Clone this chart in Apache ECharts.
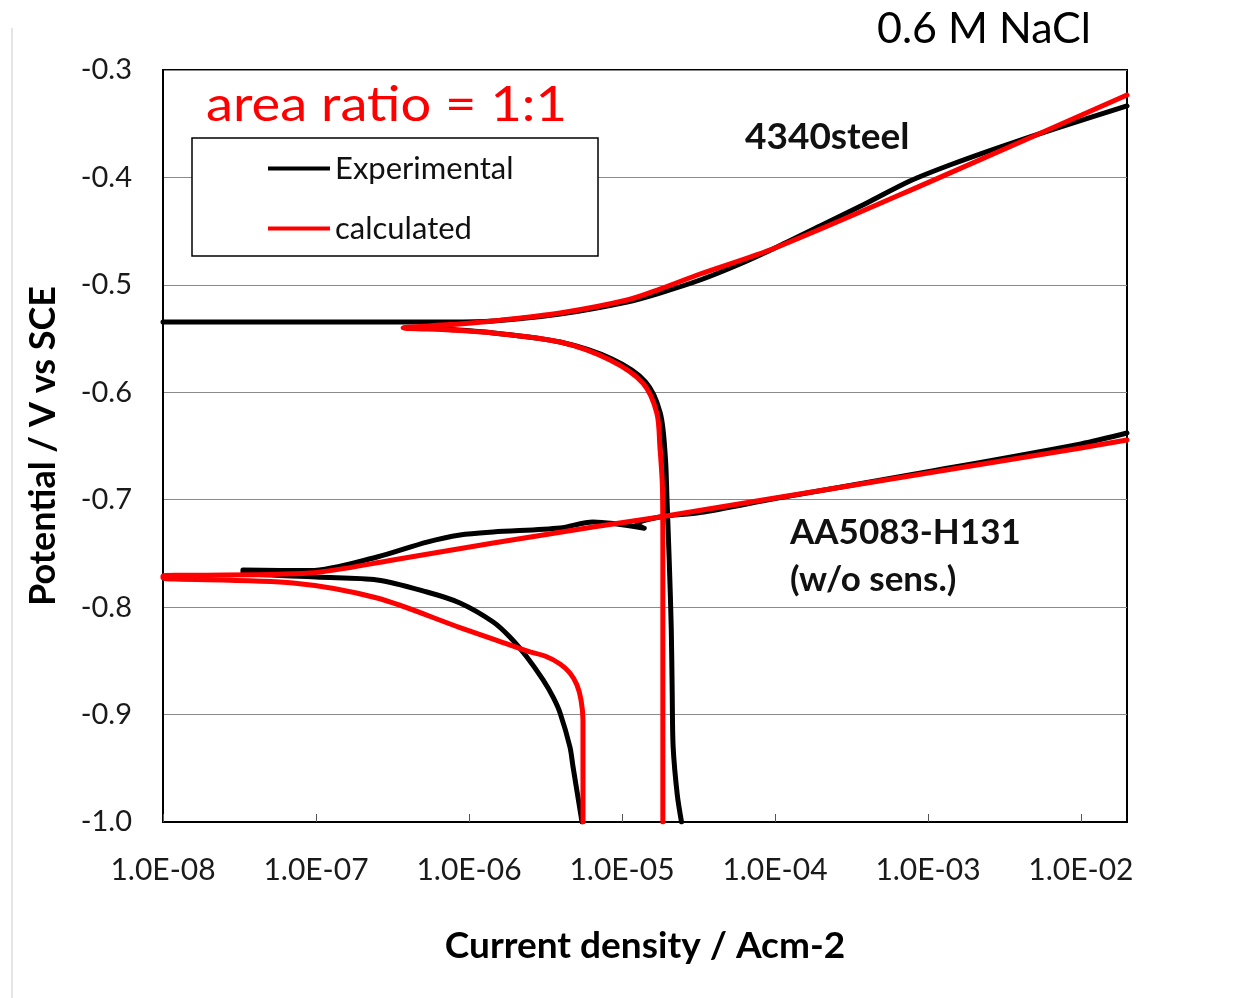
<!DOCTYPE html>
<html>
<head>
<meta charset="utf-8">
<title>Polarization curves</title>
<script src="https://cdn.jsdelivr.net/npm/echarts@6/dist/echarts.min.js"></script>
<style>
  html, body { margin: 0; padding: 0; background: #fff; }
  #chart { width: 1244px; height: 998px; }
</style>
</head>
<body>
<div id="chart"></div>
<script>
// Current density (A/cm2) vs potential (V vs SCE), 0.6 M NaCl, area ratio 1:1

// 4340 steel, measured: anodic branch (from the open-circuit plateau)
const steelExpAnodic = [
  [1e-8, -0.5346], [7.5e-7, -0.5346], [1.44e-6, -0.5336], [3.94e-6, -0.5272],
  [1.08e-5, -0.5160], [1.77e-5, -0.5076], [3.24e-5, -0.4955], [5.9e-5, -0.4806],
  [1e-4, -0.4657], [1.97e-4, -0.4452], [3.87e-4, -0.4247], [7.62e-4, -0.4033],
  [1.39e-3, -0.3884], [2.96e-3, -0.3717], [7.3e-3, -0.3531], [2.0e-2, -0.3335]
];
// 4340 steel, measured: cathodic branch
const steelExpCathodic = [
  [5.3e-7, -0.5400], [1.44e-6, -0.5448], [3.94e-6, -0.5532], [8.6e-6, -0.5690],
  [1.42e-5, -0.5900], [1.78e-5, -0.6193], [1.92e-5, -0.6600], [1.97e-5, -0.7000],
  [2.04e-5, -0.7600], [2.1e-5, -0.8200], [2.13e-5, -0.8800], [2.16e-5, -0.9300],
  [2.3e-5, -0.9750], [2.45e-5, -1.0]
];
// 4340 steel, calculated: cathodic branch up to the corrosion potential, then anodic
const steelCalc = [
  [1.85e-5, -1.0], [1.85e-5, -0.7500], [1.84e-5, -0.6900], [1.77e-5, -0.6509],
  [1.69e-5, -0.6193], [1.37e-5, -0.5914], [8.35e-6, -0.5699], [3.94e-6, -0.5532],
  [1.44e-6, -0.5448], [7.5e-7, -0.5420], [3.71e-7, -0.5400],
  [7.5e-7, -0.5370], [1.44e-6, -0.5336], [3.94e-6, -0.5262], [1.08e-5, -0.5141],
  [1.77e-5, -0.5039], [3.24e-5, -0.4899], [1e-4, -0.4657], [1e-3, -0.4048],
  [2.0e-2, -0.3233]
];

// AA5083-H131, measured: cathodic branch, then anodic branch
const alExp = [
  [5.48e-6, -1.0], [4.79e-6, -0.9488], [4.57e-6, -0.9302], [3.94e-6, -0.8985],
  [3.54e-6, -0.8836], [3.05e-6, -0.8678], [2.39e-6, -0.8464], [1.85e-6, -0.8278],
  [1.44e-6, -0.8138], [8.73e-7, -0.7961], [5.31e-7, -0.7859], [2.51e-7, -0.7747],
  [1.0e-7, -0.7720], [3.33e-8, -0.7680],
  [3.33e-8, -0.7654], [9.14e-8, -0.7660], [2.51e-7, -0.7533], [5.31e-7, -0.7394],
  [8.73e-7, -0.7328], [1.44e-6, -0.7300], [3.94e-6, -0.7263], [6.46e-6, -0.7207],
  [1.4e-5, -0.7265], [1.25e-5, -0.7225], [1.77e-5, -0.7161], [3.24e-5, -0.7120],
  [1e-4, -0.6990], [1e-3, -0.6740], [1e-2, -0.6480], [2.0e-2, -0.6379]
];
// AA5083-H131, calculated: cathodic branch, then anodic branch
const alCalc = [
  [5.56e-6, -1.0], [5.56e-6, -0.9050], [5.4e-6, -0.8864], [5.08e-6, -0.8725],
  [4.57e-6, -0.8613], [3.94e-6, -0.8529], [3.14e-6, -0.8455], [2.39e-6, -0.8408],
  [1.44e-6, -0.8297], [8.73e-7, -0.8190], [2.51e-7, -0.7915], [7.08e-8, -0.7775],
  [1e-8, -0.7729],
  [1e-8, -0.7710], [9.14e-8, -0.7682], [3.18e-7, -0.7561], [1.44e-6, -0.7403],
  [6.46e-6, -0.7254], [1.77e-5, -0.7161], [1e-4, -0.6984], [1e-3, -0.6751],
  [1e-2, -0.6518], [2.0e-2, -0.6444]
];

const seriesNames = ['Experimental', 'calculated'];
const xTickLabels = ['1.0E-08', '1.0E-07', '1.0E-06', '1.0E-05', '1.0E-04', '1.0E-03', '1.0E-02'];
const yTickLabels = ['-1.0', '-0.9', '-0.8', '-0.7', '-0.6', '-0.5', '-0.4', '-0.3'];

const FONT = 'Lato';
const BLACK = '#000000';
const RED = '#ff0000';

function curve(name, data, color) {
  return {
    name: name,
    type: 'line',
    data: data,
    showSymbol: false,
    symbol: 'none',
    smooth: 0.3,
    lineStyle: { color: color, width: 5, cap: 'round', join: 'round' },
    itemStyle: { color: color },
    emphasis: { disabled: true },
    animation: false
  };
}

const chart = echarts.init(document.getElementById('chart'), null, { renderer: 'canvas' });

chart.setOption({
  backgroundColor: '#ffffff',
  animation: false,
  textStyle: { fontFamily: FONT },
  grid: {
    left: 163, right: 117, top: 70, bottom: 176,
    show: true, borderColor: '#000', borderWidth: 2, backgroundColor: 'transparent'
  },
  legend: {
    data: seriesNames,
    orient: 'vertical',
    left: 268, top: 153,
    padding: 0,
    itemWidth: 62, itemHeight: 4,
    itemGap: 29,
    icon: 'rect',
    selectedMode: false,
    textStyle: { fontFamily: FONT, fontSize: 31, color: '#111', lineHeight: 30 },
    z: 5
  },
  xAxis: {
    type: 'log',
    logBase: 10,
    min: 1e-8,
    max: 2e-2,
    splitNumber: 7,
    axisLine: { show: true, lineStyle: { color: '#000', width: 2 } },
    axisTick: { show: true, inside: true, length: 8, lineStyle: { color: '#555', width: 1 } },
    splitLine: { show: false },
    axisLabel: {
      showMaxLabel: false,
      margin: 33,
      fontFamily: FONT, fontSize: 30, color: '#1a1a1a',
      formatter: function (v) {
        const k = Math.round(Math.log10(v)) + 8;
        return xTickLabels[k] || '';
      }
    },
    name: 'Current density / Acm-2',
    nameLocation: 'middle',
    nameGap: 106,
    nameTextStyle: { fontFamily: FONT, fontSize: 37, fontWeight: 'bold', color: '#000' }
  },
  yAxis: {
    type: 'value',
    min: -1.0,
    max: -0.3,
    interval: 0.1,
    axisLine: { show: true, lineStyle: { color: '#000', width: 2 } },
    axisTick: { show: false },
    splitLine: { show: true, lineStyle: { color: '#8a8a8a', width: 1 } },
    axisLabel: {
      margin: 31,
      fontFamily: FONT, fontSize: 29, color: '#1a1a1a',
      formatter: function (v) {
        const k = Math.round((v + 1.0) / 0.1);
        return yTickLabels[k] || '';
      }
    },
    name: 'Potential / V vs SCE',
    nameLocation: 'middle',
    nameGap: 102,
    nameTextStyle: { fontFamily: FONT, fontSize: 36, fontWeight: 'bold', color: '#000' }
  },
  graphic: [
    { type: 'line', z: 0, shape: { x1: 12, y1: 28, x2: 12, y2: 998 },
      style: { stroke: '#dcdcdc', lineWidth: 1.5 } },
    { type: 'rect', z: 3, shape: { x: 192, y: 138, width: 406, height: 118 },
      style: { fill: '#fff', stroke: '#000', lineWidth: 1.5 } },
    { type: 'text', z: 6, x: 206, y: 106, scaleX: 1.13,
      style: { text: 'area ratio = 1:1', fill: RED, font: '48px ' + FONT,
               textAlign: 'left', textVerticalAlign: 'middle' } },
    { type: 'text', z: 6, x: 877, y: 29,
      style: { text: '0.6 M NaCl', fill: '#000', font: '43px ' + FONT,
               textAlign: 'left', textVerticalAlign: 'middle' } },
    { type: 'text', z: 6, x: 745, y: 137,
      style: { text: '4340steel', fill: '#111', font: 'bold 37px ' + FONT,
               textAlign: 'left', textVerticalAlign: 'middle' } },
    { type: 'text', z: 6, x: 790, y: 533,
      style: { text: 'AA5083-H131', fill: '#111', font: 'bold 35px ' + FONT,
               textAlign: 'left', textVerticalAlign: 'middle' } },
    { type: 'text', z: 6, x: 790, y: 580,
      style: { text: '(w/o sens.)', fill: '#111', font: 'bold 35px ' + FONT,
               textAlign: 'left', textVerticalAlign: 'middle' } }
  ],
  series: [
    curve(seriesNames[0], steelExpAnodic, BLACK),
    curve(seriesNames[0], steelExpCathodic, BLACK),
    curve(seriesNames[0], alExp, BLACK),
    curve(seriesNames[1], steelCalc, RED),
    curve(seriesNames[1], alCalc, RED)
  ]
});
</script>
</body>
</html>
